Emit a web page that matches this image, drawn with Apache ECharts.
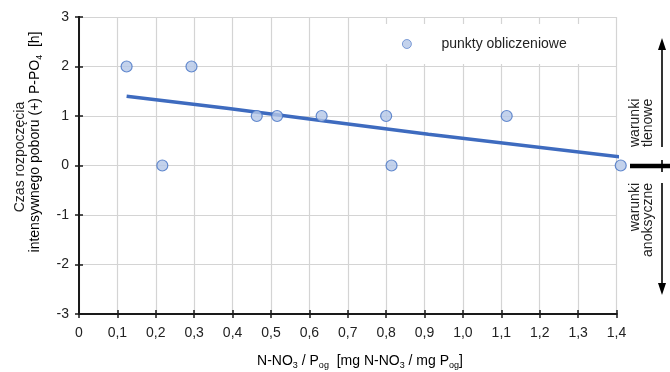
<!DOCTYPE html>
<html>
<head>
<meta charset="utf-8">
<script src="https://cdn.jsdelivr.net/npm/echarts@6/dist/echarts.min.js"></script>
<style>
  html, body { margin: 0; padding: 0; background: #fff; }
  #chart { width: 670px; height: 372px; }
</style>
</head>
<body>
<div id="chart"></div>
<script>
// dane
const pointsX = [0.124, 0.217, 0.293, 0.463, 0.516, 0.632, 0.800, 0.814, 1.114, 1.411]
const pointsY = [2, 0, 2, 1, 1, 1, 1, 0, 1, 0]
const trendX = [0.124, 0.39, 0.91, 1.416]
const trendY = [1.40, 1.15, 0.63, 0.17]
const xTickLabels = ['0', '0,1', '0,2', '0,3', '0,4', '0,5', '0,6', '0,7', '0,8', '0,9', '1,0', '1,1', '1,2', '1,3', '1,4']
const yTickLabels = ['-3', '-2', '-1', '0', '1', '2', '3']
const seriesName = 'punkty obliczeniowe'

const font = 'Liberation Sans, Arial, sans-serif'
const axisColor = '#1a1a1a'
const textColor = '#222'

const sub = { fontSize: 9, fontFamily: font, color: textColor, verticalAlign: 'bottom', lineHeight: 12 }
const base = { fontSize: 14, fontFamily: font, color: textColor, lineHeight: 18 }

const chart = echarts.init(document.getElementById('chart'))

const xBase = {
  type: 'value',
  position: 'bottom',
  min: 0,
  max: 1.4,
  interval: 0.1,
  axisLine: { show: true, onZero: false, lineStyle: { color: axisColor, width: 2 } }
}
const yBase = {
  type: 'value',
  position: 'left',
  min: -3,
  max: 3,
  interval: 1,
  axisLine: { show: true, onZero: false, lineStyle: { color: axisColor, width: 2 } }
}

chart.setOption({
  animation: false,
  grid: { left: 79, top: 17, width: 537.5, height: 297 },
  legend: {
    data: [{ name: seriesName, icon: 'circle' }],
    left: 380,
    top: 24,
    itemWidth: 9,
    itemHeight: 9,
    padding: [13, 36, 13, 22],
    backgroundColor: '#fff',
    itemStyle: { borderWidth: 0.8 },
    textStyle: { fontSize: 14, fontFamily: font, color: textColor, padding: [0, 0, 0, 25] }
  },
  xAxis: [
    Object.assign({}, xBase, {
      axisTick: { show: true, length: 4, lineStyle: { color: axisColor, width: 1.5 } },
      axisLabel: {
        margin: 12,
        fontSize: 14,
        fontFamily: font,
        color: textColor,
        formatter: v => xTickLabels[Math.round(v * 10)]
      },
      splitLine: { show: true, lineStyle: { color: '#d4d4d4', width: 1.2 } }
    }),
    Object.assign({}, xBase, {
      axisTick: { show: true, inside: true, length: 4, lineStyle: { color: axisColor, width: 1.5 } },
      axisLabel: { show: false },
      splitLine: { show: false }
    })
  ],
  yAxis: [
    Object.assign({}, yBase, {
      axisTick: { show: true, length: 4, lineStyle: { color: axisColor, width: 1.5 } },
      axisLabel: {
        margin: 10,
        fontSize: 14,
        fontFamily: font,
        color: textColor,
        formatter: v => yTickLabels[Math.round(v) + 3]
      },
      splitLine: { show: true, lineStyle: { color: '#d4d4d4', width: 1.2 } }
    }),
    Object.assign({}, yBase, {
      axisTick: { show: true, inside: true, length: 4, lineStyle: { color: axisColor, width: 1.5 } },
      axisLabel: { show: false },
      splitLine: { show: false }
    })
  ],
  series: [
    {
      name: 'trend',
      type: 'line',
      data: trendX.map((x, i) => [x, trendY[i]]),
      symbol: 'none',
      smooth: true,
      clip: false,
      lineStyle: { color: '#3e6bbf', width: 3.5 },
      z: 2
    },
    {
      name: seriesName,
      type: 'scatter',
      data: pointsX.map((x, i) => [x, pointsY[i]]),
      symbol: 'circle',
      symbolSize: 11,
      clip: false,
      itemStyle: { color: '#b4c7e7', borderColor: '#4472c4', borderWidth: 1.2 },
      z: 3
    }
  ],
  graphic: [
    // opis osi Y
    {
      type: 'text',
      x: 20, y: 157,
      rotation: Math.PI / 2,
      style: { text: 'Czas rozpoczęcia', font: '14px ' + font, fill: textColor, align: 'center', verticalAlign: 'middle' }
    },
    {
      type: 'text',
      x: 35, y: 142,
      rotation: Math.PI / 2,
      style: {
        text: '{b|intensywnego poboru (+) P-PO}{s|4}{b|  [h]}',
        align: 'center',
        verticalAlign: 'middle',
        rich: { b: base, s: sub }
      }
    },
    // opis osi X
    {
      type: 'text',
      x: 360, y: 361,
      style: {
        text: '{b|N-NO}{s|3}{b| / P}{s|og}{b|  [mg N-NO}{s|3}{b| / mg P}{s|og}{b|]}',
        align: 'center',
        verticalAlign: 'middle',
        rich: { b: base, s: sub }
      }
    },
    // warunki tlenowe / anoksyczne
    {
      type: 'text',
      x: 642, y: 147,
      rotation: Math.PI / 2,
      style: { text: 'warunki\ntlenowe', font: '14px ' + font, fill: textColor, align: 'left', verticalAlign: 'middle', lineHeight: 13 }
    },
    {
      type: 'text',
      x: 642, y: 183,
      rotation: Math.PI / 2,
      style: { text: 'warunki\nanoksyczne', font: '14px ' + font, fill: textColor, align: 'right', verticalAlign: 'middle', lineHeight: 13 }
    },
    { type: 'line', shape: { x1: 662, y1: 48, x2: 662, y2: 147 }, style: { stroke: '#000', lineWidth: 1.6 } },
    { type: 'polygon', shape: { points: [[662, 38], [658, 50], [666, 50]] }, style: { fill: '#000' } },
    { type: 'line', shape: { x1: 662, y1: 183, x2: 662, y2: 285 }, style: { stroke: '#000', lineWidth: 1.6 } },
    { type: 'polygon', shape: { points: [[662, 295], [658, 283], [666, 283]] }, style: { fill: '#000' } },
    { type: 'line', shape: { x1: 630, y1: 166, x2: 670, y2: 166 }, style: { stroke: '#000', lineWidth: 4.5 } },
    { type: 'line', shape: { x1: 662, y1: 160, x2: 662, y2: 172 }, style: { stroke: '#000', lineWidth: 1.6 } }
  ]
})
</script>
</body>
</html>
